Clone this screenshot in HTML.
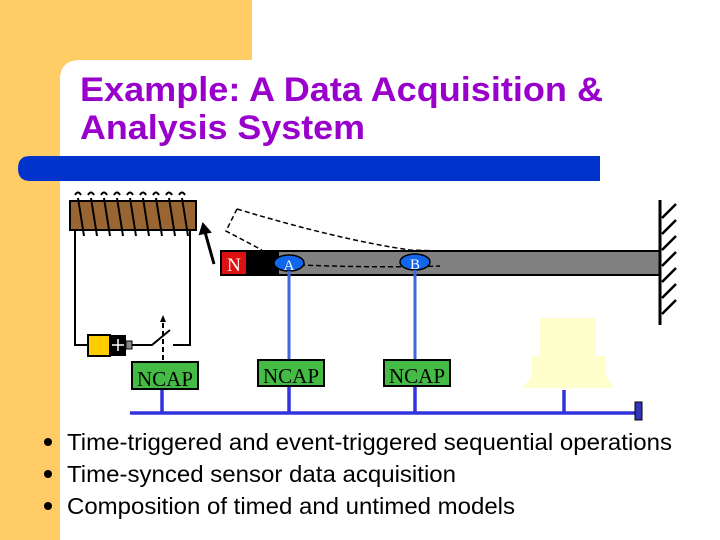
<!DOCTYPE html>
<html><head><style>
body{margin:0;width:720px;height:540px;overflow:hidden;background:#fff;font-family:"Liberation Sans",Arial,sans-serif}
</style></head><body>
<svg width="720" height="540" xmlns="http://www.w3.org/2000/svg" style="position:absolute;left:0;top:0">
<rect x="0" y="0" width="720" height="540" fill="#fff"/>
<rect x="0" y="0" width="252" height="80" fill="#ffcc66"/>
<rect x="0" y="0" width="60" height="540" fill="#ffcc66"/>
<path d="M60 80 Q60 60 80 60 L252 60 L252 80 Z" fill="#fff"/>
<rect x="60" y="75" width="200" height="100" fill="#fff"/>
<text x="80" y="101" font-size="34" font-weight="bold" fill="#9900cc" textLength="523" lengthAdjust="spacingAndGlyphs">Example: A Data Acquisition &amp;</text>
<text x="80" y="139" font-size="34" font-weight="bold" fill="#9900cc" textLength="285" lengthAdjust="spacingAndGlyphs">Analysis System</text>
<path d="M30 156 L600 156 L600 181 L30 181 Q18 181 18 168.5 Q18 156 30 156 Z" fill="#0033cc"/>
<!-- coil -->
<rect x="70" y="201" width="126" height="29" fill="#996633" stroke="#000" stroke-width="2"/>
<g stroke="#000" stroke-width="2" fill="none">
<path d="M78 198 L84 236 M91 198 L97 236 M104 198 L110 236 M117 198 L123 236 M130 198 L136 236 M143 198 L149 236 M156 198 L162 236 M169 198 L175 236 M182 198 L188 236"/>
<path d="M75 195 Q78 190 81 195 M88 195 Q91 190 94 195 M101 195 Q104 190 107 195 M114 195 Q117 190 120 195 M127 195 Q130 190 133 195 M140 195 Q143 190 146 195 M153 195 Q156 190 159 195 M166 195 Q169 190 172 195 M179 195 Q182 190 185 195"/>
<path d="M75 230 L75 345 L88 345 M128 345 L152 345 L170 330 M173 345 L190 345 L190 230"/>
</g>
<rect x="88" y="335" width="22" height="21" fill="#ffcc00" stroke="#000" stroke-width="2"/>
<rect x="110" y="335" width="16" height="21" fill="#000"/>
<path d="M112 345 L124 345 M118 339 L118 351" stroke="#fff" stroke-width="1.5"/>
<rect x="126" y="341" width="6" height="8" fill="#888" stroke="#000"/>
<path d="M163 360 L163 320" stroke="#000" stroke-width="2" stroke-dasharray="5,3"/>
<path d="M160 322 L163 315 L166 322 Z" fill="#000"/>
<!-- arrow -->
<path d="M214 264 L205 232" stroke="#000" stroke-width="3"/>
<path d="M200 234 L203 224 L210 232 Z" fill="#000" stroke="#000" stroke-width="2"/>
<!-- dashed beam -->
<path d="M237 209 L226 231 L262 250 M237 209 Q340 240 410 250 L440 251" stroke="#000" stroke-width="1.5" fill="none" stroke-dasharray="5,3"/>
<!-- beam -->
<rect x="221" y="251" width="439" height="24" fill="#808080" stroke="#000" stroke-width="2"/>
<rect x="221" y="251" width="58" height="24" fill="#000"/>
<rect x="222" y="252" width="24" height="22" fill="#dd1111"/>
<text x="234" y="271" font-family="Liberation Serif,serif" font-size="19" fill="#fff" text-anchor="middle">N</text>
<path d="M300 265 Q380 268 440 266" stroke="#000" stroke-width="1.5" fill="none" stroke-dasharray="5,3"/>
<ellipse cx="289" cy="263" rx="15" ry="8" fill="#1166ee" stroke="#000" stroke-width="1.5"/>
<text x="289" y="270" font-family="Liberation Serif,serif" font-size="15" fill="#fff" text-anchor="middle">A</text>
<ellipse cx="415" cy="262" rx="15" ry="8" fill="#1166ee" stroke="#000" stroke-width="1.5"/>
<text x="415" y="269" font-family="Liberation Serif,serif" font-size="15" fill="#fff" text-anchor="middle">B</text>
<!-- wall -->
<path d="M660 200 L660 325" stroke="#000" stroke-width="3"/>
<g stroke="#000" stroke-width="2.5">
<path d="M662 218 L676 204 M662 234 L676 220 M662 250 L676 236 M662 266 L676 252 M662 282 L676 268 M662 298 L676 284 M662 314 L676 300"/>
</g>
<!-- blue lines -->
<g stroke="#4466dd" stroke-width="3">
<path d="M289 271 L289 360 M415 270 L415 360"/>
</g>
<g stroke="#3333dd" stroke-width="3.5">
<path d="M130 413 L638 413 M162 389 L162 413 M289 386 L289 413 M415 386 L415 413 M564 390 L564 413"/>
</g>
<rect x="635" y="402" width="7" height="18" fill="#3333bb" stroke="#000"/>
<!-- NCAP -->
<g font-family="Liberation Serif,serif" font-size="21" fill="#000">
<rect x="132" y="362" width="66" height="27" fill="#44bb44" stroke="#000" stroke-width="2"/>
<text x="165" y="386" text-anchor="middle">NCAP</text>
<rect x="258" y="360" width="66" height="26" fill="#44bb44" stroke="#000" stroke-width="2"/>
<text x="291" y="383" text-anchor="middle">NCAP</text>
<rect x="384" y="360" width="66" height="26" fill="#44bb44" stroke="#000" stroke-width="2"/>
<text x="417" y="383" text-anchor="middle">NCAP</text>
</g>
<!-- computer -->
<rect x="540" y="318" width="56" height="38" fill="#ffffcc"/>
<rect x="532" y="356" width="74" height="20" fill="#ffffcc"/>
<path d="M532 376 L606 376 L614 388 L522 388 Z" fill="#ffffcc"/>
<!-- bullets -->
<g fill="#000">
<circle cx="48" cy="442" r="4"/><circle cx="48" cy="474" r="4"/><circle cx="48" cy="506" r="4"/>
</g>
<g font-size="23" fill="#000">
<text x="67" y="450" textLength="605" lengthAdjust="spacingAndGlyphs">Time-triggered and event-triggered sequential operations</text>
<text x="67" y="482" textLength="389" lengthAdjust="spacingAndGlyphs">Time-synced sensor data acquisition</text>
<text x="67" y="514" textLength="448" lengthAdjust="spacingAndGlyphs">Composition of timed and untimed models</text>
</g>
</svg>
</body></html>
